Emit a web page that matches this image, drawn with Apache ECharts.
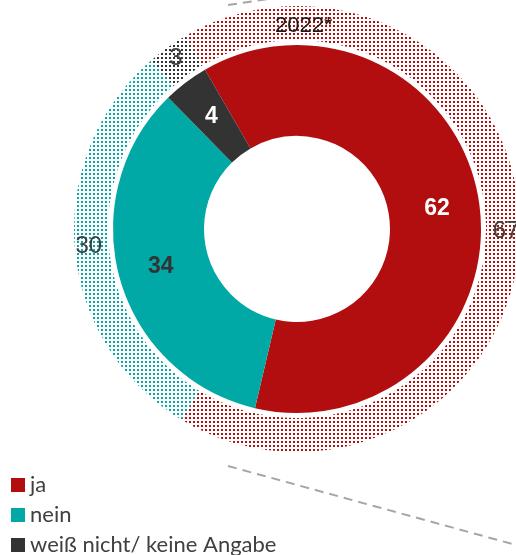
<!DOCTYPE html>
<html>
<head>
<meta charset="utf-8">
<script src="https://cdn.jsdelivr.net/npm/echarts@6/dist/echarts.min.js"></script>
<style>
  html, body { margin: 0; padding: 0; background: #fff; }
  #chart { width: 516px; height: 555px; }
</style>
</head>
<body>
<div id="chart"></div>
<script>
  // Kategorien und Werte
  const categories = ['ja', 'nein', 'weiß nicht/ keine Angabe'];
  const values2023 = [62, 34, 4];   // innerer Ring
  const values2022 = [67, 30, 3];   // äußerer Ring (gepunktet)
  const outerTitle = '2022*';

  const colors = ['#b20e10', '#00a8a6', '#333333'];
  const innerLabelColors = ['#ffffff', '#333333', '#ffffff'];

  // Punktmuster für den äußeren Ring
  function dotPattern(color) {
    let c = document.createElement('canvas');
    c.width = 4;
    c.height = 4;
    let ctx = c.getContext('2d');
    ctx.fillStyle = '#ffffff';
    ctx.fillRect(0, 0, 4, 4);
    ctx.fillStyle = color;
    ctx.fillRect(1, 1, 2, 2);
    return { image: c, repeat: 'repeat' };
  }

  let chart = echarts.init(document.getElementById('chart'));

  let option = {
    animation: false,
    legend: {
      data: categories,
      orient: 'vertical',
      left: 11,
      top: 474,
      height: 200,
      padding: 0,
      itemWidth: 14,
      itemHeight: 14,
      itemGap: 8,
      icon: 'rect',
      selectedMode: false,
      textStyle: {
        fontFamily: 'Lato',
        fontSize: 22,
        color: '#404040',
        lineHeight: 14
      }
    },
    graphic: [
      {
        type: 'text',
        left: 275,
        top: 15,
        z: 100,
        style: {
          text: outerTitle,
          font: '22px "Liberation Sans"',
          fill: '#1a1a1a'
        }
      },
      {
        type: 'line',
        z: 100,
        shape: { x1: 228, y1: 5, x2: 268, y2: -1 },
        style: { stroke: '#a6a6a6', lineWidth: 2, lineDash: [9, 6] }
      },
      {
        type: 'line',
        z: 100,
        shape: { x1: 228, y1: 466, x2: 516, y2: 545 },
        style: { stroke: '#a6a6a6', lineWidth: 2, lineDash: [9, 6] }
      }
    ],
    series: [
      {
        name: '2023',
        type: 'pie',
        center: [297, 229],
        radius: [93, 184],
        startAngle: 120,
        clockwise: true,
        silent: true,
        label: {
          show: true,
          position: 'inside',
          formatter: '{c}',
          fontFamily: 'Liberation Sans',
          fontWeight: 'bold',
          fontSize: 23
        },
        labelLine: { show: false },
        data: categories.map((n, i) => ({
          name: n,
          value: values2023[i],
          itemStyle: { color: colors[i] },
          label: { color: innerLabelColors[i] }
        }))
      },
      {
        name: outerTitle,
        type: 'pie',
        center: [297, 229],
        radius: [189, 223],
        startAngle: 120,
        clockwise: true,
        silent: true,
        label: {
          show: true,
          position: 'inside',
          formatter: '{c}',
          fontFamily: 'Liberation Sans',
          fontSize: 24,
          color: '#404040'
        },
        labelLine: { show: false },
        data: categories.map((n, i) => ({
          name: n,
          value: values2022[i],
          itemStyle: { color: dotPattern(colors[i]) }
        }))
      }
    ]
  };

  chart.setOption(option);
</script>
</body>
</html>
